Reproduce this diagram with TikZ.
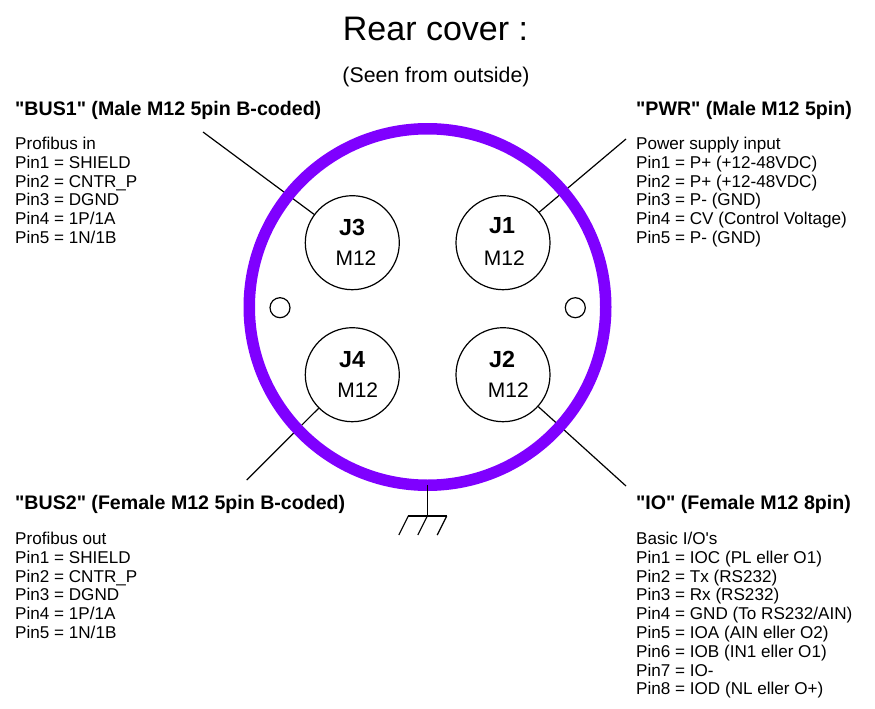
\documentclass[tikz,border=0pt]{standalone}
\usepackage{fontspec}
\setmainfont[Ligatures=TeXOff]{Liberation Sans}
\definecolor{ring}{HTML}{7F00FF}
\tikzset{
  conn/.style={circle,draw=black,line width=1.2pt,minimum size=94pt,inner sep=0pt},
  hole/.style={circle,draw=black,line width=1.2pt,minimum size=20pt,inner sep=0pt},
  head/.style={anchor=west,font=\fontsize{19.6}{22}\selectfont\bfseries,inner sep=0pt},
  body/.style={anchor=north west,align=left,font=\fontsize{17.1}{18.8}\selectfont,inner sep=0pt},
  jname/.style={font=\fontsize{23.3}{25}\selectfont\bfseries,inner sep=0pt},
  mname/.style={font=\fontsize{21}{23}\selectfont,inner sep=0pt},
  wire/.style={line width=1.2pt,black}
}
\begin{document}
\begin{tikzpicture}[x=1pt,y=-1pt]
\useasboundingbox (0,0) rectangle (875,709);
\node[font=\fontsize{34}{38}\selectfont,inner sep=0pt] (title) at (435.5,28.5) {Rear cover :};
\node[font=\fontsize{21.3}{24}\selectfont,inner sep=0pt] (sub) at (436,77) {(Seen from outside)};
\node[conn] (j3) at (352.3,242.7) {};
\node[conn] (j1) at (503,242.7) {};
\node[conn] (j4) at (352.3,374.7) {};
\node[conn] (j2) at (503,374.7) {};
\node[hole] (hl) at (280,307.7) {};
\node[hole] (hr) at (575.3,307.7) {};
\node[jname] at (352,227.7) {J3};
\node[jname] at (502,225.3) {J1};
\node[jname] at (352,359.7) {J4};
\node[jname] at (502,359.7) {J2};
\node[mname] at (356,258.3) {M12};
\node[mname] at (504.3,258.3) {M12};
\node[mname] at (357.7,390.3) {M12};
\node[mname] at (508.3,390.3) {M12};
\node[head] (hb1) at (15,110) {"BUS1" (Male M12 5pin B-coded)};
\node[head] (hp) at (636,110) {"PWR" (Male M12 5pin)};
\node[head] (hb2) at (15,504) {"BUS2" (Female M12 5pin B-coded)};
\node[head] (hio) at (636,504) {"IO" (Female M12 8pin)};
\node[body] (t1) at (15,137) {Profibus in\\Pin1 = SHIELD\\Pin2 = CNTR\_P\\Pin3 = DGND\\Pin4 = 1P/1A\\Pin5 = 1N/1B};
\node[body] (t2) at (636,137) {Power supply input\\Pin1 = P+ (+12-48VDC)\\Pin2 = P+ (+12-48VDC)\\Pin3 = P- (GND)\\Pin4 = CV (Control Voltage)\\Pin5 = P- (GND)};
\node[body] (t3) at (15,532) {Profibus out\\Pin1 = SHIELD\\Pin2 = CNTR\_P\\Pin3 = DGND\\Pin4 = 1P/1A\\Pin5 = 1N/1B};
\node[body] (t4) at (636,532) {Basic I/O's\\Pin1 = IOC (PL eller O1)\\Pin2 = Tx (RS232)\\Pin3 = Rx (RS232)\\Pin4 = GND (To RS232/AIN)\\Pin5 = IOA (AIN eller O2)\\Pin6 = IOB (IN1 eller O1)\\Pin7 = IO-\\Pin8 = IOD (NL eller O+)};
\coordinate (e3) at (203,132);
\coordinate (e1) at (626,139);
\coordinate (e4) at (246.7,480);
\coordinate (e2) at (626,486);
\draw[wire] (e3) -- (j3);
\draw[wire] (e1) -- (j1);
\draw[wire] (e4) -- (j4);
\draw[wire] (e2) -- (j2);
\node[circle,draw=ring,line width=11.5pt,minimum size=356.5pt,inner sep=0pt] (ring) at (427.5,307) {};
\coordinate (g0) at (427.3,485);
\coordinate (g1) at (427.3,516);
\coordinate (gl) at (408.3,516);
\coordinate (gr) at (446.7,516);
\draw[wire] (g0) -- (g1);
\draw[wire] (gl) -- (gr);
\draw[wire] (gl) -- +(-9.5,19);
\draw[wire] (g1) -- +(-9.5,19);
\draw[wire] (gr) -- +(-9.5,19);
\end{tikzpicture}
\end{document}
